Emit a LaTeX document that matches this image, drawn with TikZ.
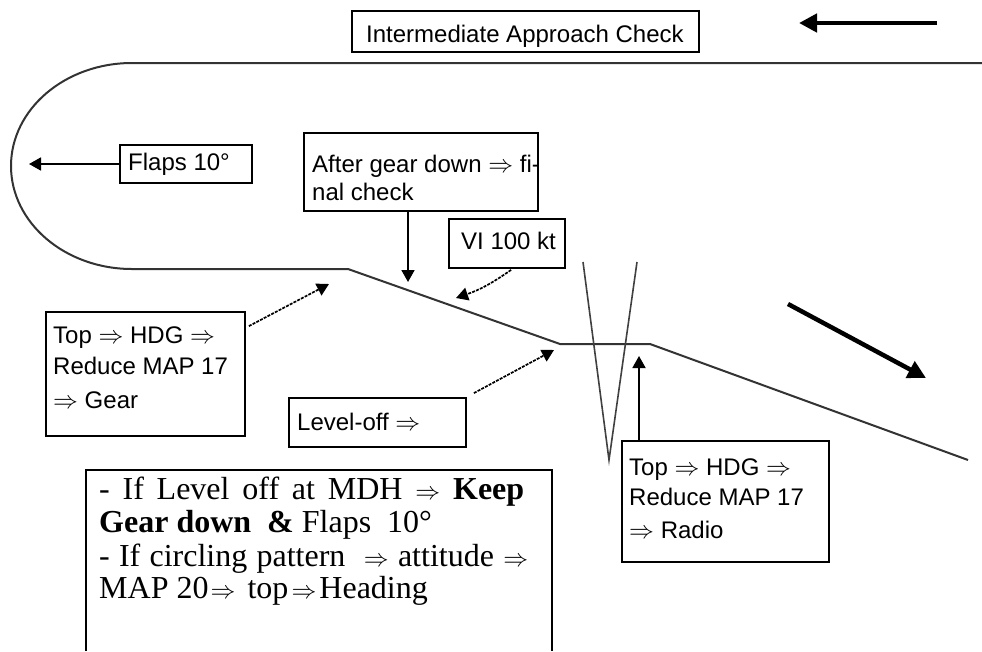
\documentclass[tikz,border=0pt]{standalone}
\usepackage{fontspec}
\setmainfont{Liberation Serif}
\newfontfamily\lsans{Liberation Sans}
\usetikzlibrary{arrows.meta,calc}
\tikzset{
  box/.style={draw, line width=1.8pt, inner sep=0pt},
  lbl/.style={font=\lsans\fontsize{24}{28}\selectfont, anchor=base west, inner sep=0pt},
  big/.style={font=\fontsize{32}{36}\selectfont, anchor=base west, inner sep=0pt},
  track/.style={line width=2pt, draw=black!80},
  vline/.style={line width=1.6pt, draw=black!75},
  solidarr/.style={line width=1.8pt, -{Triangle[length=12pt,width=13pt]}},
  dotarr/.style={line width=1.7pt, dash pattern=on 3pt off 1.2pt, -{Triangle[length=12pt,width=13pt]}},
  heavyarr/.style={line width=4.5pt, -{Triangle[length=18pt,width=18pt]}}
}
\newcommand{\imp}{\ensuremath{\Rightarrow}}
\newcommand{\bimp}{\makebox[25pt]{$\Rightarrow$}}
\begin{document}
\begin{tikzpicture}[x=1pt,y=-1pt]
\useasboundingbox (0,0) rectangle (982,651);

% flight track
\draw[track] (982,63) -- (132,63)
  .. controls (65.2,63) and (11,109.1) .. (11,166)
  .. controls (11,222.9) and (65.2,269) .. (132,269)
  -- (348,269) -- (560,344) -- (650,344) -- (968,460);

% V (procedure turn area)
\draw[vline] (583,262) -- (609,460) -- (637,262);

% boxes
\node[box, minimum width=347pt, minimum height=41pt] (iac) at (525.5,31.5) {};
\node[box, minimum width=132pt, minimum height=38pt] (fl) at (186,164) {};
\node[box, minimum width=234pt, minimum height=78pt] (ag) at (421,172) {};
\node[box, minimum width=116pt, minimum height=49pt] (vi) at (507,243.5) {};
\node[box, minimum width=199pt, minimum height=124pt] (lb) at (145.5,374) {};
\node[box, minimum width=177pt, minimum height=49pt] (lo) at (377.5,422.5) {};
\node[box, minimum width=207pt, minimum height=121pt] (rb) at (725.5,501.5) {};
\draw[line width=1.8pt] (86,651) -- (86,470) -- (552,470) -- (552,651);

% texts
\node[lbl] (tiac) at (366,42) {Intermediate Approach Check};
\node[lbl] (tfl) at (128,170) {Flaps 10°};
\node[lbl] (tag1) at (312,172) {After gear down \imp{} fi-};
\node[lbl] (tag2) at (312,200) {nal check};
\node[lbl] (tvi) at (461,249) {VI 100 kt};
\node[lbl] (tlb1) at (53,343) {Top \imp{} HDG \imp};
\node[lbl] (tlb2) at (53,374) {Reduce MAP 17};
\node[lbl] (tlb3) at (53,408) {\imp{} Gear};
\node[lbl] (tlo) at (297,430) {Level-off \imp};
\node[lbl] (trb1) at (629,475) {Top \imp{} HDG \imp};
\node[lbl] (trb2) at (629,505) {Reduce MAP 17};
\node[lbl] (trb3) at (629,538) {\imp{} Radio};

\node[big] (b1) at (99,499) {\makebox[425pt][s]{- If Level off at MDH \bimp{} \textbf{Keep}}};
\node[big] (b2) at (99,532) {\textbf{Gear down\ \ \&} Flaps\ \ 10°};
\node[big] (b3) at (99,566) {\makebox[429pt][s]{- If circling pattern\ \ \bimp{} attitude \bimp}};
\node[big] (b4) at (99,598) {MAP 20\hspace{2pt}\bimp\hspace{12pt}top\hspace{3pt}\bimp\hspace{3pt}Heading};

% arrow targets and free ends
\coordinate (flt) at (29,164);
\coordinate (agt) at (408,282);
\coordinate (vit) at (456,298);
\coordinate (lbt) at (329,284);
\coordinate (lot) at (554,350);
\coordinate (rbt) at (639,356);
\coordinate (hs) at (788,304);
\coordinate (he) at (926,378);
\coordinate (ts) at (937,23);
\coordinate (te) at (799,23);

% connectors
\draw[solidarr] (fl.west) -- (flt);
\draw[solidarr] (ag.south -| agt) -- (agt);
\draw[dotarr] ($(vi.south west)+(63,1)$) to[bend left=8] (vit);
\draw[dotarr] ($(lb.north east)+(3,15)$) -- (lbt);
\draw[dotarr] ($(lo.north east)+(7,-4)$) -- (lot);
\draw[solidarr] (rb.north -| rbt) -- (rbt);
\draw[heavyarr] (hs) -- (he);
\draw[heavyarr] (ts) -- (te);
\end{tikzpicture}
\end{document}
